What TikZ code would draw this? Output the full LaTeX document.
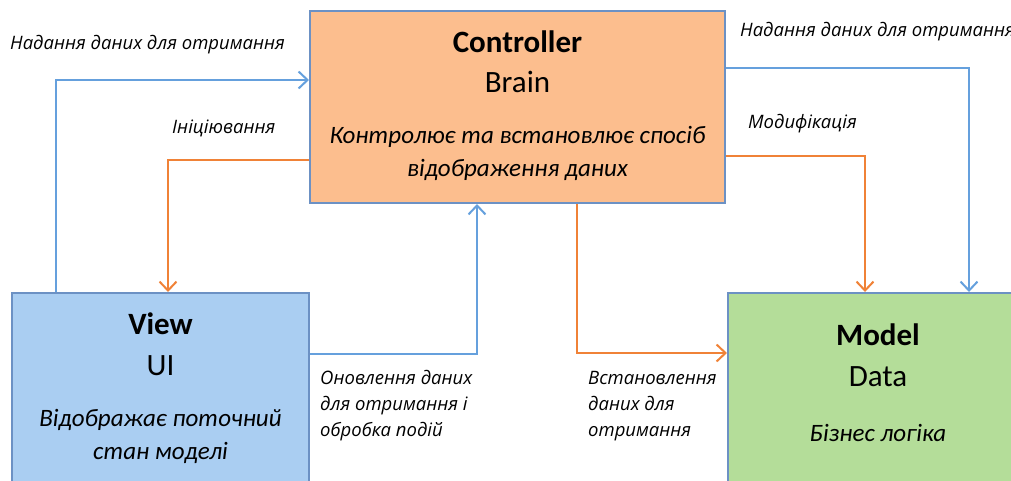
\documentclass[tikz,border=0pt]{standalone}
\usepackage{fontspec}
\setmainfont{Carlito}
\newfontfamily\lblfont{Open Sans}
\usetikzlibrary{arrows.meta}
\definecolor{ctrlfill}{RGB}{252,190,142}
\definecolor{viewfill}{RGB}{170,206,242}
\definecolor{modelfill}{RGB}{180,221,153}
\definecolor{boxline}{RGB}{108,145,196}
\definecolor{bluearr}{RGB}{101,160,221}
\definecolor{orangearr}{RGB}{240,130,55}
\begin{document}
\begin{tikzpicture}[x=1pt,y=1pt,
    box/.style={draw=boxline,line width=2pt,inner sep=0pt},
    head/.style={font=\fontsize{31}{31}\selectfont\bfseries,inner sep=0pt},
    sub/.style={font=\fontsize{31}{31}\selectfont,inner sep=0pt},
    desc/.style={font=\fontsize{25}{33}\selectfont\itshape,align=center,inner sep=0pt},
    lbl/.style={font=\lblfont\fontsize{18.5}{26}\selectfont\itshape,align=left,anchor=west,inner sep=0pt},
    bline/.style={draw=bluearr,line width=2pt,-{Straight Barb[length=9pt,width=17pt,line width=2pt]}},
    oline/.style={draw=orangearr,line width=2pt,-{Straight Barb[length=9pt,width=17pt,line width=2pt]}}]
    \clip (0,0) rectangle (1011,-481);
    \node [box,fill=ctrlfill,minimum width=415,minimum height=192] (ctrl) at (517.5,-107) {};
    \node [box,fill=viewfill,minimum width=297,minimum height=200] (view) at (160.5,-393) {};
    \node [box,fill=modelfill,minimum width=300,minimum height=200] (model) at (878,-393) {};
    \node [head] (ctrlhead) at (517.5,-42) {Controller};
    \node [sub] (ctrlsub) at (517.5,-82) {Brain};
    \node [desc] (ctrldesc) at (517.5,-153) {Контролює та встановлює спосіб\\відображення даних};
    \node [head] (viewhead) at (160.5,-324) {View};
    \node [sub] (viewsub) at (160.5,-366) {UI};
    \node [desc] (viewdesc) at (160.5,-436) {Відображає поточний\\стан моделі};
    \node [head] (modelhead) at (878,-335) {Model};
    \node [sub] (modelsub) at (878,-377) {Data};
    \node [desc] (modeldesc) at (878,-433) {Бізнес логіка};
    \draw [bline] ([xshift=45pt]view.north west) |- ([yshift=27pt]ctrl.west);
    \draw [oline] ([yshift=-53pt]ctrl.west) -| ([xshift=7.5pt]view.north);
    \draw [bline] ([yshift=-62pt]view.north east) -| ([xshift=-40.5pt]ctrl.south);
    \draw [oline] ([xshift=59.5pt]ctrl.south) |- ([yshift=-61pt]model.north west);
    \draw [bline] ([yshift=-58pt]ctrl.north east) -| ([xshift=242pt]model.north west);
    \draw [oline] ([yshift=-146pt]ctrl.north east) -| ([xshift=138pt]model.north west);
    \node [lbl] (lblgive) at (10,-45) {Надання даних для отримання};
    \node [lbl] (lblinit) at (172,-128) {Ініціювання};
    \node [lbl] (lblupd) at (320,-406) {Оновлення даних\\для отримання і\\обробка подій};
    \node [lbl] (lblset) at (588,-406) {Встановлення\\даних для\\отримання};
    \node [lbl] (lblgive2) at (740,-32) {Надання даних для отримання};
    \node [lbl] (lblmod) at (748,-124) {Модифікація};
\end{tikzpicture}
\end{document}
